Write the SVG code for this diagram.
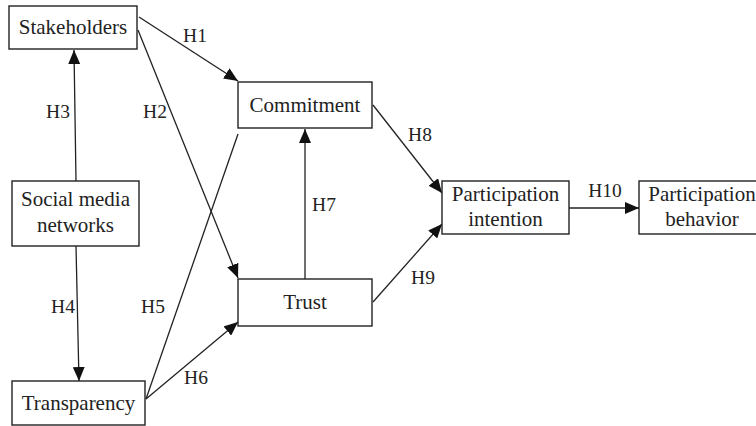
<svg xmlns="http://www.w3.org/2000/svg" width="756" height="426" viewBox="0 0 756 426">
<style>
.box{fill:#fff;stroke:#222;stroke-width:1.4}
.t{font-family:"Liberation Serif","Times New Roman",serif;font-size:21px;fill:#222;text-anchor:middle}
.l{font-family:"Liberation Serif","Times New Roman",serif;font-size:19.5px;fill:#222;text-anchor:middle}
.c{stroke:#222;stroke-width:1.3;fill:none}
</style>
<defs>
<marker id="ah" markerUnits="userSpaceOnUse" markerWidth="14" markerHeight="12" viewBox="0 0 14 12" refX="14" refY="6" orient="auto">
<path d="M0,0 L14,6 L0,12 Z" fill="#111"/>
</marker>
</defs>
<rect width="756" height="426" fill="#fff"/>
<g id="connectors">
<line class="c" x1="139" y1="17" x2="238" y2="81" marker-end="url(#ah)"/>
<line class="c" x1="138" y1="30" x2="238" y2="278" marker-end="url(#ah)"/>
<line class="c" x1="76" y1="181" x2="74" y2="50" marker-end="url(#ah)"/>
<line class="c" x1="76" y1="246" x2="79" y2="381" marker-end="url(#ah)"/>
<line class="c" x1="146" y1="399" x2="238" y2="134"/>
<line class="c" x1="146" y1="399" x2="238" y2="322" marker-end="url(#ah)"/>
<line class="c" x1="305" y1="279" x2="305" y2="129" marker-end="url(#ah)"/>
<line class="c" x1="373" y1="105" x2="442" y2="193" marker-end="url(#ah)"/>
<line class="c" x1="373" y1="302" x2="442" y2="224" marker-end="url(#ah)"/>
<line class="c" x1="569" y1="208" x2="639" y2="208" marker-end="url(#ah)"/>
<text class="l" x="195" y="42">H1</text>
<text class="l" x="155" y="118">H2</text>
<text class="l" x="58" y="118">H3</text>
<text class="l" x="63" y="313">H4</text>
<text class="l" x="153" y="313">H5</text>
<text class="l" x="196" y="384">H6</text>
<text class="l" x="324" y="211">H7</text>
<text class="l" x="420" y="141">H8</text>
<text class="l" x="423" y="284">H9</text>
<text class="l" x="605" y="197">H10</text>
</g>
<g id="stakeholders">
<rect class="box" x="9" y="6" width="128" height="43"/>
<text class="t" x="73" y="34">Stakeholders</text>
</g>
<g id="social">
<rect class="box" x="12" y="181" width="127" height="65"/>
<text class="t" x="75.5" y="206">Social media</text>
<text class="t" x="75.5" y="232">networks</text>
</g>
<g id="transparency">
<rect class="box" x="12" y="381" width="133" height="44"/>
<text class="t" x="78.5" y="410">Transparency</text>
</g>
<g id="commitment">
<rect class="box" x="238" y="82" width="134" height="46"/>
<text class="t" x="305" y="112">Commitment</text>
</g>
<g id="trust">
<rect class="box" x="238" y="279" width="134" height="47"/>
<text class="t" x="305" y="309">Trust</text>
</g>
<g id="intention">
<rect class="box" x="442" y="181" width="127" height="53"/>
<text class="t" x="505.5" y="201">Participation</text>
<text class="t" x="505.5" y="226">intention</text>
</g>
<g id="behavior">
<rect class="box" x="639" y="181" width="130" height="53"/>
<text class="t" x="702" y="201">Participation</text>
<text class="t" x="702" y="226">behavior</text>
</g>
</svg>
